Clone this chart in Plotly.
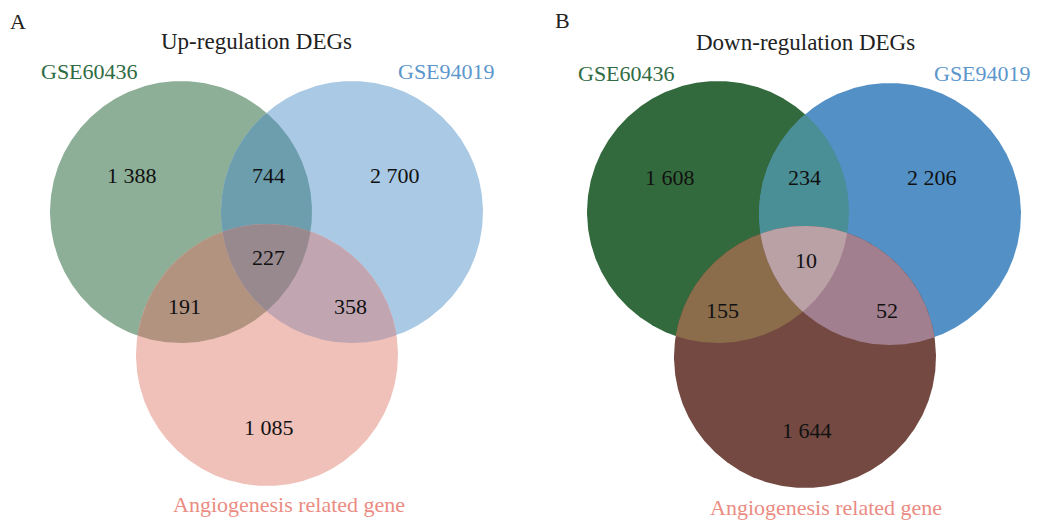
import numpy as np
import plotly.graph_objects as go

# ---- data -------------------------------------------------------------
set_names = ["GSE60436", "GSE94019", "Angiogenesis related gene"]
panel_titles = ["Up-regulation DEGs", "Down-regulation DEGs"]
panel_tags = ["A", "B"]

# region counts: only1, only2, only3, 1&2, 1&3, 2&3, 1&2&3
up_counts = [1388, 2700, 1085, 744, 191, 358, 227]
down_counts = [1608, 2206, 1644, 234, 155, 52, 10]

# ---- layout / style ---------------------------------------------------
W, H = 1040, 522
R = 131

panels = [
    dict(
        centers=[(181, 212), (352, 212), (267, 355)],
        colors=dict(c1="#8dae97", c2="#a9c9e5", c3="#f0c1b9",
                    c12="#6c9eae", c13="#b29380", c23="#c1a6b2", c123="#98898f"),
        label_pos=[(132, 175), (395, 175), (269, 427), (268, 175), (184, 306), (350, 306), (268, 257)],
        title_pos=(256, 41), tag_pos=(18, 21),
        name_pos=[(89, 71), (446, 71), (289, 504)],
    ),
    dict(
        centers=[(718, 212), (890, 214), (805, 357)],
        colors=dict(c1="#336a3d", c2="#5290c6", c3="#734941",
                    c12="#4a8f95", c13="#8b6d4b", c23="#a27f8e", c123="#b9a1a6"),
        label_pos=[(670, 177), (932, 177), (807, 430), (804, 177), (722, 310), (887, 310), (806, 260)],
        title_pos=(805, 42), tag_pos=(562, 20),
        name_pos=[(626, 73), (982, 73), (826, 507)],
    ),
]
name_colors = ["#2f6b43", "#5b96cc", "#ea8c82"]
FONT = "Liberation Serif"


def disc_intersection(circles, n=720):
    """Polygon of the intersection of several discs (a convex region)."""
    pts = []
    t = np.linspace(0, 2 * np.pi, n, endpoint=False)
    for i, (cx, cy, r) in enumerate(circles):
        px, py = cx + r * np.cos(t), cy + r * np.sin(t)
        keep = np.ones(n, bool)
        for j, (ox, oy, orad) in enumerate(circles):
            if j != i:
                keep &= (px - ox) ** 2 + (py - oy) ** 2 <= orad ** 2 + 1e-6
        pts.append(np.column_stack([px[keep], py[keep]]))
    pts = np.vstack(pts)
    c = pts.mean(axis=0)
    order = np.argsort(np.arctan2(pts[:, 1] - c[1], pts[:, 0] - c[0]))
    pts = pts[order]
    return np.append(pts[:, 0], pts[0, 0]), np.append(pts[:, 1], pts[0, 1])


fig = go.Figure()
annotations = []


def add_region(circles, color):
    x, y = disc_intersection(circles)
    fig.add_trace(go.Scatter(x=x, y=y, mode="lines", fill="toself",
                             fillcolor=color, line=dict(width=0),
                             hoverinfo="skip", showlegend=False))


for p, counts, title, tag in zip(panels, [up_counts, down_counts], panel_titles, panel_tags):
    circ = [(cx, cy, R) for cx, cy in p["centers"]]
    col = p["colors"]
    add_region([circ[0]], col["c1"])
    add_region([circ[1]], col["c2"])
    add_region([circ[2]], col["c3"])
    add_region([circ[0], circ[1]], col["c12"])
    add_region([circ[0], circ[2]], col["c13"])
    add_region([circ[1], circ[2]], col["c23"])
    add_region(circ, col["c123"])

    for (lx, ly), v in zip(p["label_pos"], counts):
        txt = f"{v:,}".replace(",", " ")
        annotations.append(dict(x=lx, y=ly, text=txt, showarrow=False,
                                font=dict(family=FONT, size=22, color="#111111")))
    for (nx, ny), name, c in zip(p["name_pos"], set_names, name_colors):
        annotations.append(dict(x=nx, y=ny, text=name, showarrow=False,
                                font=dict(family=FONT, size=22, color=c)))
    annotations.append(dict(x=p["title_pos"][0], y=p["title_pos"][1], text=title,
                            showarrow=False, font=dict(family=FONT, size=23, color="#222222")))
    annotations.append(dict(x=p["tag_pos"][0], y=p["tag_pos"][1], text=tag,
                            showarrow=False, font=dict(family=FONT, size=22, color="#222222")))

fig.update_layout(
    width=W, height=H,
    margin=dict(l=0, r=0, t=0, b=0),
    paper_bgcolor="white", plot_bgcolor="white",
    xaxis=dict(range=[0, W], visible=False, fixedrange=True),
    yaxis=dict(range=[H, 0], visible=False, fixedrange=True),
    annotations=annotations,
    showlegend=False,
)

fig.write_html("out.html")
